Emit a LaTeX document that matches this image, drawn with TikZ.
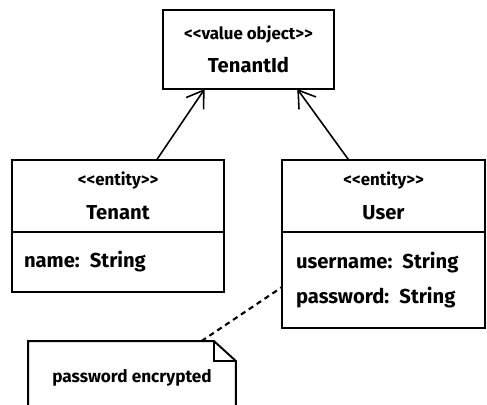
\documentclass[tikz,border=0pt]{standalone}
\usepackage{fontspec}
\setmainfont{Fira Sans}[Ligatures=TeXOff]
\usetikzlibrary{arrows.meta, positioning, calc}

\begin{document}
\begin{tikzpicture}[
        x=0.02cm, y=-0.02cm,
        line width=1.1pt,
        head/.style={rectangle, draw, fill=white, align=center, inner sep=0pt, outer sep=0pt, font=\fontsize{11.5}{13}\selectfont\bfseries},
        attrs/.style={rectangle, draw, fill=white, align=left, inner sep=0pt, outer sep=0pt, text width=#1, font=\fontsize{11.5}{20}\selectfont\bfseries},
        notebox/.style={rectangle, minimum width=4.12cm, minimum height=1.44cm, font=\fontsize{9.8}{11}\selectfont\bfseries},
        arr/.style={-{Straight Barb[length=3.2mm, width=4.2mm]}, line width=0.9pt},
        link/.style={dash pattern=on 3pt off 2.4pt, line width=1.2pt}
      ]
        \useasboundingbox (0,0) rectangle (487,405);

        % value object
        \node[head, minimum width=3.42cm, minimum height=1.58cm] (tid) at (248.5,49.5)
          {{\fontsize{9.6}{10}\selectfont <<value object>>}\\[6pt] TenantId};

        % entities
        \node[head, minimum width=4.24cm, minimum height=1.44cm] (tenant) at (118,196)
          {{\fontsize{9.6}{10}\selectfont <<entity>>}\\[6pt] Tenant};
        \node[attrs=3.76cm, minimum width=4.24cm, minimum height=1.2cm, below=0pt of tenant] (tenantattr)
          {name: String};

        \node[head, minimum width=4.06cm, minimum height=1.44cm] (user) at (383.5,196)
          {{\fontsize{9.6}{10}\selectfont <<entity>>}\\[6pt] User};
        \node[attrs=3.5cm, minimum width=4.06cm, minimum height=1.92cm, below=0pt of user] (userattr)
          {username: String\\ password: String};

        % note
        \node[notebox] (note) at (132,378) {password encrypted};
        \draw (note.south west) -- (note.north west) -- ($(note.north east)+(-22,0)$)
          -- ($(note.north east)+(0,20)$) -- (note.south east);
        \draw ($(note.north east)+(-22,0)$) -- ($(note.north east)+(-22,20)$) -- ($(note.north east)+(0,20)$);

        \draw[arr] (tenant.43) -- (tid.222);
        \draw[arr] (user.134) -- (tid.-39);
        \draw[link] (note.28) -- (userattr.184);
      \end{tikzpicture}
\end{document}
